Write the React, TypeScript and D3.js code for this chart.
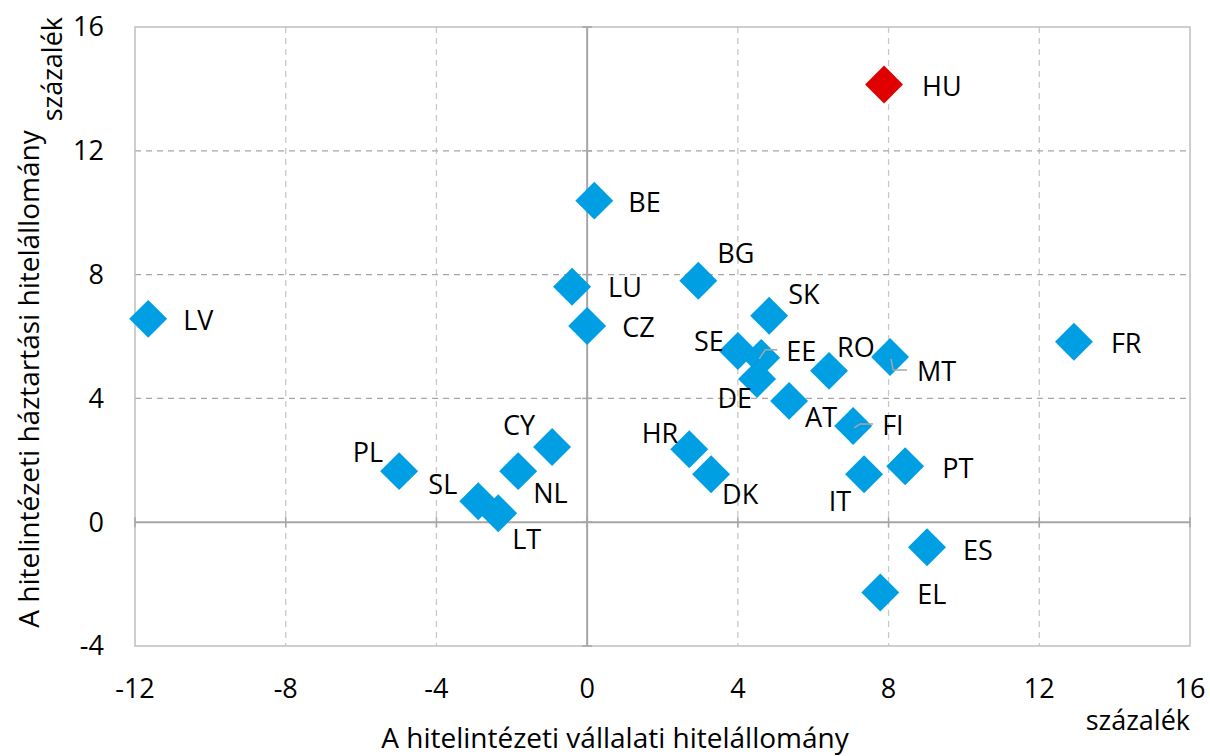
import React from 'react';
import * as d3 from 'd3';

const countries = ['HU', 'BE', 'BG', 'LU', 'CZ', 'LV', 'SK', 'SE', 'EE', 'DE', 'RO', 'MT', 'AT', 'FI', 'FR', 'HR', 'DK', 'PT', 'IT', 'ES', 'EL', 'PL', 'CY', 'NL', 'SL', 'LT'];
const corporate = [7.88, 0.19, 2.95, -0.4, 0.0, -11.65, 4.83, 4.0, 4.62, 4.51, 6.42, 8.04, 5.36, 7.06, 12.92, 2.71, 3.29, 8.44, 7.35, 9.02, 7.78, -4.99, -0.93, -1.83, -2.89, -2.36];
const household = [14.14, 10.39, 7.8, 7.61, 6.34, 6.57, 6.67, 5.53, 5.31, 4.63, 4.89, 5.34, 3.92, 3.11, 5.83, 2.36, 1.55, 1.81, 1.55, -0.81, -2.27, 1.65, 2.43, 1.65, 0.68, 0.29];
const xTicks = [-12, -8, -4, 0, 4, 8, 12, 16];
const yTicks = [-4, 0, 4, 8, 12, 16];
const highlighted = 'HU';

// label placement relative to the marker: [dx, dy, anchor]
const labelPos: Record<string, [number, number, string]> = {
  HU: [38, 2, 'start'], BE: [34, 2, 'start'], BG: [19, -27, 'start'], LU: [36, 1, 'start'],
  CZ: [35, 2, 'start'], LV: [35, 2, 'start'], SK: [19, -21, 'start'], SE: [-14, -9, 'end'],
  EE: [25, -6, 'start'], DE: [-5, 20, 'end'], RO: [8, -23, 'start'], MT: [27, 15, 'start'],
  AT: [16, 17, 'start'], FI: [29, 0, 'start'], FR: [37, 2, 'start'], HR: [-11, -16, 'end'],
  DK: [11, 20, 'start'], PT: [37, 2, 'start'], IT: [-13, 27, 'end'], ES: [36, 3, 'start'],
  EL: [37, 2, 'start'], PL: [-16, -19, 'end'], CY: [-17, -21, 'end'], NL: [15, 22, 'start'],
  SL: [-21, -17, 'end'], LT: [14, 26, 'start'],
};
const leaders: Record<string, [number, number][]> = {
  EE: [[-2, 1], [4, -8], [16, -8]],
  MT: [[1, 2], [3, 13], [17, 13]],
  FI: [[1, 2], [7, -2], [20, -2]],
};

const W = 1210;
const H = 756;
const left = 135, right = 1190, top = 27, bottom = 646;
const font = '"Open Sans", Lato, sans-serif';
const fs = 27;
const fsTitle = 28;

export default function App() {
  const x = d3.scaleLinear().domain([-12, 16]).range([left, right]);
  const y = d3.scaleLinear().domain([-4, 16]).range([bottom, top]);
  const diamond = d3.symbol().type(d3.symbolSquare).size(720)() as string;
  const line = d3.line();

  const leaderPath = (c: string) => {
    const i = countries.indexOf(c);
    const px = x(corporate[i]), py = y(household[i]);
    return line(leaders[c].map(([dx, dy]) => [px + dx, py + dy])) as string;
  };

  return (
    <svg width={W} height={H} style={{ position: 'absolute', left: 0, top: 0, background: '#fff' }} fontFamily={font}>
      {/* grid */}
      {xTicks.filter(t => t !== 0 && t !== -12 && t !== 16).map(t => (
        <line key={'gx' + t} x1={x(t)} x2={x(t)} y1={top} y2={bottom} stroke="#c8c8c8" strokeWidth={1.3} strokeDasharray="6,5" />
      ))}
      {yTicks.filter(t => t !== 0 && t !== -4 && t !== 16).map(t => (
        <line key={'gy' + t} x1={left} x2={right} y1={y(t)} y2={y(t)} stroke="#a6a6a6" strokeWidth={1.3} strokeDasharray="6,5" />
      ))}
      <rect x={left} y={top} width={right - left} height={bottom - top} fill="none" stroke="#bfbfbf" strokeWidth={1.5} />
      {/* zero axes */}
      <line x1={x(0)} x2={x(0)} y1={top} y2={bottom} stroke="#a6a6a6" strokeWidth={2} />
      <line x1={left} x2={right} y1={y(0)} y2={y(0)} stroke="#a6a6a6" strokeWidth={2} />
      {xTicks.map(t => (
        <line key={'tx' + t} x1={x(t)} x2={x(t)} y1={y(0) - 5} y2={y(0) + 5} stroke="#a6a6a6" strokeWidth={1.5} />
      ))}
      {yTicks.map(t => (
        <line key={'ty' + t} x1={x(0) - 5} x2={x(0) + 5} y1={y(t)} y2={y(t)} stroke="#a6a6a6" strokeWidth={1.5} />
      ))}
      {/* tick labels */}
      {xTicks.map(t => (
        <text key={'lx' + t} x={x(t)} y={698} textAnchor="middle" fontSize={fs} fill="#000">{t}</text>
      ))}
      {yTicks.map(t => (
        <text key={'ly' + t} x={104} y={y(t)} dy="0.35em" textAnchor="end" fontSize={fs} fill="#000">{t}</text>
      ))}
      {/* markers */}
      {countries.map((c, i) => (
        <path key={'m' + c} d={diamond} transform={`translate(${x(corporate[i])},${y(household[i])}) rotate(45)`} fill={c === highlighted ? '#e00000' : '#009fe3'} />
      ))}
      {/* leader lines */}
      {Object.keys(leaders).map(c => (
        <path key={'ld' + c} d={leaderPath(c)} fill="none" stroke="#a6a6a6" strokeWidth={1.5} />
      ))}
      {/* labels */}
      {countries.map((c, i) => {
        const [dx, dy, anchor] = labelPos[c];
        return (
          <text key={'t' + c} x={x(corporate[i]) + dx} y={y(household[i]) + dy} dy="0.35em" textAnchor={anchor as any} fontSize={fs} fill="#000">{c}</text>
        );
      })}
      {/* axis titles */}
      <text x={615} y={748} textAnchor="middle" fontSize={fsTitle} fill="#000">A hitelintézeti vállalati hitelállomány</text>
      <text x={1190} y={730} textAnchor="end" fontSize={fs} fill="#000">százalék</text>
      <text transform="translate(39,379) rotate(-90)" textAnchor="middle" fontSize={fsTitle} fill="#000">A hitelintézeti háztartási hitelállomány</text>
      <text transform="translate(62,17) rotate(-90)" textAnchor="end" fontSize={fs} fill="#000">százalék</text>
    </svg>
  );
}
